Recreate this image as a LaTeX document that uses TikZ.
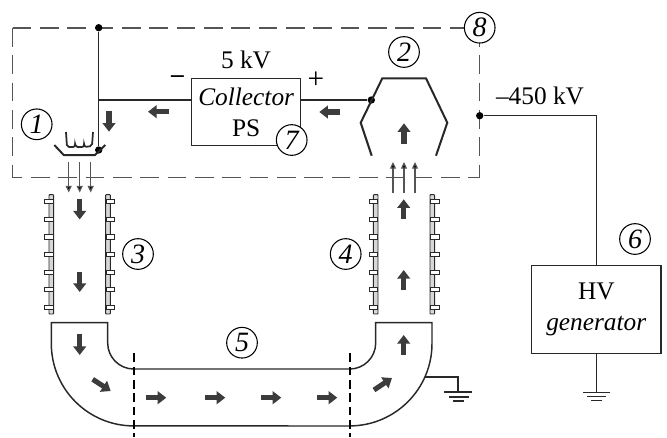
\documentclass[tikz,border=0pt]{standalone}
\usepackage{fontspec}
\setmainfont{Liberation Serif}
\usetikzlibrary{arrows.meta, calc}
\definecolor{wirecol}{RGB}{40,40,40}
\definecolor{dashcol}{RGB}{85,85,85}
\definecolor{beamcol}{RGB}{60,60,60}
\definecolor{railcol}{RGB}{215,215,215}
\tikzset{
  wire/.style={draw=wirecol, line width=1.1pt},
  electrode/.style={draw=wirecol, line width=1.5pt, line join=miter},
  tubeline/.style={draw=wirecol, line width=1.1pt},
  cutline/.style={draw=black, line width=1.4pt, dash pattern=on 6.5pt off 3.5pt},
  envelope/.style={draw=dashcol, line width=0.9pt, dash pattern=on 14pt off 6.5pt},
  numcirc/.style={draw=black, line width=0.8pt, circle, fill=white, minimum size=23pt, inner sep=0pt, font=\fontsize{21}{22}\selectfont\itshape},
  psbox/.style={draw=wirecol, line width=1.1pt, align=center, inner sep=0pt, font=\fontsize{19}{23}\selectfont},
  lab/.style={font=\fontsize{19}{20}\selectfont, inner sep=0pt},
  juncdot/.style={circle, fill=black, inner sep=0pt, minimum size=5.5pt},
  fatarrow/.style={draw=beamcol, line width=3.8pt, -{Triangle[width=9.5pt, length=6.5pt]}},
  thinarrow/.style={draw=dashcol, line width=0.9pt, -{Triangle[width=4.5pt, length=5pt, fill=black]}},
  rail/.style={draw=wirecol, line width=0.7pt, fill=railcol, rounded corners=0.5pt},
  plate/.style={draw=wirecol, line width=0.7pt, fill=white},
  gndline/.style={draw=wirecol, line width=0.9pt}
}
\begin{document}
\begin{tikzpicture}[x=0.75pt, y=-0.75pt]
  \useasboundingbox (0,0) rectangle (667,437);
  % envelope
  \coordinate (envtl) at (12.5,28);
  \coordinate (envtr) at (479.7,28);
  \coordinate (envbl) at (12.5,177.5);
  \coordinate (envbr) at (479.7,177.5);
  \draw[envelope] (envtl) -- (envtr);
  \draw[envelope] (envtl) -- (envbl);
  \draw[envelope] (envtr) -- (envbr);
  \draw[envelope, dash phase=6.6pt] (envbl) -- (envbr);
  % power supply
  \node[psbox, minimum width=81.7pt, minimum height=50.5pt] (collector) at (246.2,112) {\textit{Collector}\\PS};
  \node[lab] (psvolt) at (246,60) {5 kV};
  \node[lab] (psminus) at (177.5,79) {\textbf{--}};
  \node[lab, font=\fontsize{22}{22}\selectfont] (psplus) at (316,80) {+};
  % wires
  \node[juncdot] (topdot) at (98.7,27.7) {};
  \node[juncdot] (cathdot) at (98.7,150) {};
  \node[juncdot] (anodedot) at (371.3,100) {};
  \node[juncdot] (hvdot) at (479.7,115.7) {};
  \coordinate (cathwire) at (98.7,100);
  \draw[wire] (topdot) -- (cathdot);
  \draw[wire] (cathwire) -- (collector.west |- cathwire);
  \draw[wire] (collector.east |- anodedot) -- (anodedot);
  % cathode with filament
  \draw[electrode] (54.3,145) -- (63.7,155) -- (95,155) -- (105.3,145);
  \draw[electrode, line width=1.3pt, rounded corners=1.5pt] (66,132) -- (67,147) -- (75,147) -- (75,143) -- (75.5,147) -- (84,147) -- (84,143) -- (84.5,147) -- (92,146) -- (93,132);
  % collector electrode
  \draw[electrode] (371.7,155.7) -- (360.7,122.7) -- (382.3,78.3) -- (426,78.3) -- (447.3,122.7) -- (436,155.7);
  % beam in the gaps
  \foreach \bx in {68.7,79.7,90.7} \draw[thinarrow] (\bx,162) -- (\bx,192.5);
  \foreach \bx in {393,404,415} \draw[thinarrow] (\bx,192.5) -- (\bx,162);
  % accelerating columns
  \foreach \cx/\px in {49/44.7, 105.7/106, 373.3/369, 430/430.3} {
    \draw[rail] (\cx,194.7) rectangle ++(4.7,119.3);
    \foreach \py in {201.7,219.3,237,254.7,272.3,289.7,307.3}
      \draw[plate] (\px,\py-2.2) rectangle ++(8.7,4.4);
  }
  % transport tube
  \draw[tubeline] (133.7,369) arc[start angle=90, end angle=180, radius=26] -- (107.7,322.7) -- (51.3,322.7) -- (51.3,343.5) arc[start angle=180, end angle=90, radius=82.4] -- (349.7,426);
  \draw[tubeline] (133.7,369) -- (349.7,369) arc[start angle=90, end angle=0, radius=26] -- (375.7,322.7) -- (432,322.7) -- (432,343.5) arc[start angle=0, end angle=90, radius=82.4];
  \draw[cutline] (133.7,353.3) -- (133.7,437);
  \draw[cutline] (349.7,353.3) -- (349.7,437);
  % tube ground
  \coordinate (tubetap) at (425,377);
  \coordinate (tubegnd) at (458,392);
  \draw[wire] (tubetap) -| (tubegnd);
  \draw[gndline] (444.3,392) -- (471.7,392);
  \draw[gndline] (449,397) -- (468.7,397);
  \draw[gndline] (453,401) -- (464,401);
  % HV generator
  \node[psbox, minimum width=97pt, minimum height=65.7pt] (hvgen) at (596.3,309.5) {HV\\\textit{generator}};
  \node[lab] (hvvolt) at (540,96) {--450 kV};
  \coordinate (hvgnd) at (596.3,392.3);
  \draw[wire] (hvdot) -| (hvgen.north);
  \draw[wire] (hvgen.south) -- (hvgnd);
  \draw[gndline] (583,392.3) -- (610,392.3);
  \draw[gndline] (587,396.7) -- (606,396.7);
  \draw[gndline] (591,400.5) -- (602,400.5);
  % beam direction
  \draw[fatarrow] (109,111) -- (109,131.7);
  \draw[fatarrow] (169,111.7) -- (148,111.7);
  \draw[fatarrow] (340,112) -- (319.3,112);
  \draw[fatarrow] (404,144) -- (404,123.3);
  \draw[fatarrow] (79.7,199.3) -- (79.7,219.5);
  \draw[fatarrow] (79.7,271.7) -- (79.7,292);
  \draw[fatarrow] (79.7,334.3) -- (79.7,355);
  \draw[fatarrow] (92.7,379.3) -- (110.7,391);
  \foreach \ax in {146,205,261,317} \draw[fatarrow] (\ax,397.7) -- (\ax+20.3,397.7);
  \draw[fatarrow] (374,390) -- (392,378);
  \draw[fatarrow] (403.7,355) -- (403.7,335);
  \draw[fatarrow] (403.7,290) -- (403.7,270);
  \draw[fatarrow] (403.7,219.3) -- (403.7,199.3);
  % numbers
  \node[numcirc] (num1) at (36.7,124.3) {1};
  \node[numcirc] (num2) at (404,52) {2};
  \node[numcirc] (num3) at (138,254) {3};
  \node[numcirc] (num4) at (345.7,254) {4};
  \node[numcirc] (num5) at (242,342.7) {5};
  \node[numcirc] (num6) at (635,239) {6};
  \node[numcirc] (num7) at (291.7,140) {7};
  \node[numcirc] (num8) at (479.7,27.7) {8};
\end{tikzpicture}
\end{document}
